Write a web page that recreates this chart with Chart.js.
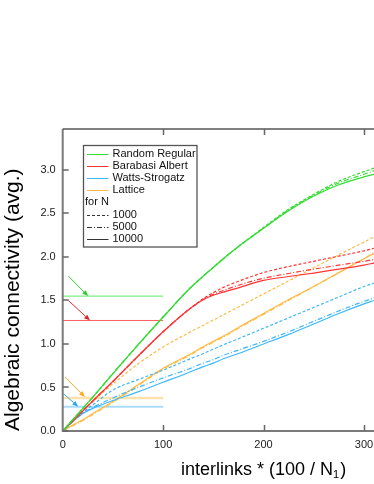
<!DOCTYPE html>
<html>
<head>
<meta charset="utf-8">
<style>
	html, body { margin: 0; padding: 0; background: #fff; }
	#wrap { width: 374px; height: 484px; position: relative; }
</style>
<script src="https://cdn.jsdelivr.net/npm/chart.js@4.4.1/dist/chart.umd.min.js"></script>
</head>
<body>
<div id="wrap"><canvas id="chart"></canvas></div>
<script>
// interlinks * (100 / N1)
const xs = [0, 10, 20, 30, 50, 75, 100, 125, 140, 150, 160, 175, 200, 225, 250, 275, 300, 310];

// Random Regular
const rr1000 = [0, 0.13, 0.26, 0.39, 0.66, 0.99, 1.31, 1.62, 1.78, 1.88, 1.98, 2.12, 2.34, 2.55, 2.72, 2.87, 2.98, 3.02];
const rr5000 = [0, 0.13, 0.26, 0.39, 0.66, 0.99, 1.31, 1.62, 1.78, 1.88, 1.98, 2.12, 2.33, 2.54, 2.71, 2.85, 2.95, 2.99];
const rr10000 = [0, 0.13, 0.26, 0.39, 0.66, 0.99, 1.31, 1.62, 1.78, 1.88, 1.98, 2.12, 2.33, 2.53, 2.70, 2.83, 2.92, 2.95];

// Barabasi Albert
const ba1000 = [0, 0.115, 0.23, 0.345, 0.57, 0.86, 1.14, 1.39, 1.52, 1.59, 1.65, 1.72, 1.82, 1.89, 1.95, 2.01, 2.07, 2.10];
const ba5000 = [0, 0.115, 0.23, 0.345, 0.57, 0.86, 1.14, 1.39, 1.51, 1.57, 1.615, 1.675, 1.755, 1.81, 1.86, 1.905, 1.95, 1.97];
const ba10000 = [0, 0.115, 0.23, 0.345, 0.57, 0.86, 1.14, 1.39, 1.51, 1.56, 1.595, 1.645, 1.73, 1.775, 1.815, 1.86, 1.905, 1.93];

// Watts-Strogatz
const ws1000 = [0, 0.11, 0.21, 0.30, 0.47, 0.59, 0.70, 0.82, 0.89, 0.94, 0.99, 1.06, 1.18, 1.30, 1.42, 1.54, 1.66, 1.70];
const ws5000 = [0, 0.11, 0.20, 0.27, 0.38, 0.50, 0.61, 0.71, 0.78, 0.82, 0.87, 0.93, 1.03, 1.14, 1.26, 1.38, 1.49, 1.53];
const ws10000 = [0, 0.11, 0.20, 0.26, 0.35, 0.45, 0.56, 0.67, 0.74, 0.78, 0.83, 0.89, 1.00, 1.11, 1.23, 1.35, 1.46, 1.50];

// Lattice
const lat1000 = [0, 0.115, 0.23, 0.34, 0.54, 0.77, 0.965, 1.125, 1.215, 1.275, 1.335, 1.425, 1.575, 1.725, 1.875, 2.025, 2.17, 2.23];
const lat5000 = [0, 0.06, 0.12, 0.19, 0.33, 0.52, 0.71, 0.86, 0.96, 1.02, 1.08, 1.18, 1.34, 1.50, 1.66, 1.82, 1.98, 2.05];
const lat10000 = [0, 0.07, 0.13, 0.20, 0.34, 0.53, 0.72, 0.87, 0.97, 1.03, 1.09, 1.19, 1.35, 1.51, 1.66, 1.82, 1.98, 2.04];

// reference levels (drawn from 0 to 100) and arrows pointing at them
const refLevels = [1.55, 1.27, 0.38, 0.28];
const refSpan = [0, 100];
const arrowFrom = [[5.6, 1.78], [5.6, 1.50], [2.3, 0.62], [0.6, 0.43]];
const arrowTo = [[25.4, 1.55], [27.2, 1.27], [22.2, 0.39], [15.5, 0.28]];

const yTicks = [0, 0.5, 1, 1.5, 2, 2.5, 3];
const xTicks = [0, 100, 200, 300];

const legendLabels = ["Random Regular", "Barabasi Albert", "Watts-Strogatz", "Lattice"];
const legendHeader = "for N";
const sizeLabels = ["1000", "5000", "10000"];

const green = "#33dd33";
const red = "#ff3535";
const blue = "#3db8fa";
const orange = "#ffbb44";
const colors = [green, red, blue, orange];
const refColors = ["#5eea5e", "#ff6060", "#ffe2aa", "#a9dcfd"];
const refWidths = [1, 1, 2.5, 2];
const arrowColors = ["#2ccc2c", "#dd2828", "#ffaa22", "#2ea8ef"];
const dashes = [[3, 2], [5, 2, 1, 2], []];

const font = "'Liberation Sans', Arial, sans-serif";

const pts = vals => xs.map((x, i) => ({ x, y: vals[i] }));

const series = [
	[rr1000, rr5000, rr10000],
	[ba1000, ba5000, ba10000],
	[ws1000, ws5000, ws10000],
	[lat1000, lat5000, lat10000],
];

const datasets = [];
series.forEach((group, g) => {
	group.forEach((vals, k) => {
		datasets.push({
			data: pts(vals),
			borderColor: colors[g],
			borderWidth: 1.2,
			borderDash: dashes[k],
			pointRadius: 0,
			showLine: true,
			tension: 0.35,
			cubicInterpolationMode: "monotone",
		});
	});
});
refLevels.forEach((lvl, i) => {
	datasets.push({
		data: refSpan.map(x => ({ x, y: lvl })),
		borderColor: refColors[i],
		borderWidth: refWidths[i],
		pointRadius: 0,
		showLine: true,
	});
});

const drawArrow = (ctx, x0, y0, x1, y1, color) => {
	const ang = Math.atan2(y1 - y0, x1 - x0);
	const len = 6;
	const hw = 2.4;
	ctx.strokeStyle = color;
	ctx.fillStyle = color;
	ctx.lineWidth = 1;
	ctx.beginPath();
	ctx.moveTo(x0, y0);
	ctx.lineTo(x1 - len * Math.cos(ang), y1 - len * Math.sin(ang));
	ctx.stroke();
	ctx.beginPath();
	ctx.moveTo(x1, y1);
	ctx.lineTo(
		x1 - len * Math.cos(ang) + hw * Math.sin(ang),
		y1 - len * Math.sin(ang) - hw * Math.cos(ang)
	);
	ctx.lineTo(
		x1 - len * Math.cos(ang) - hw * Math.sin(ang),
		y1 - len * Math.sin(ang) + hw * Math.cos(ang)
	);
	ctx.closePath();
	ctx.fill();
};

const framePlugin = {
	id: "frame",
	afterDatasetsDraw(chart) {
		const { ctx, chartArea: a, scales } = chart;
		const { x, y } = scales;
		ctx.save();

		// arrows
		arrowFrom.forEach((p, i) => {
			drawArrow(
				ctx,
				x.getPixelForValue(p[0]),
				y.getPixelForValue(p[1]),
				x.getPixelForValue(arrowTo[i][0]),
				y.getPixelForValue(arrowTo[i][1]),
				arrowColors[i]
			);
		});

		// frame
		ctx.setLineDash([]);
		ctx.strokeStyle = "#7a7a7a";
		ctx.lineWidth = 2;
		ctx.beginPath();
		ctx.moveTo(a.left, a.top);
		ctx.lineTo(a.left, a.bottom);
		ctx.lineTo(a.right, a.bottom);
		ctx.stroke();
		ctx.strokeStyle = "#555";
		ctx.lineWidth = 1.5;
		ctx.beginPath();
		ctx.moveTo(a.left, a.top);
		ctx.lineTo(a.right, a.top);
		ctx.stroke();

		// inward ticks
		ctx.strokeStyle = "#666";
		ctx.lineWidth = 1.5;
		ctx.beginPath();
		yTicks.forEach(v => {
			const py = Math.round(y.getPixelForValue(v));
			ctx.moveTo(a.left, py);
			ctx.lineTo(a.left + 6, py);
		});
		xTicks.slice(1).forEach(v => {
			const px = Math.round(x.getPixelForValue(v)) + 0.5;
			ctx.moveTo(px, a.bottom);
			ctx.lineTo(px, a.bottom - 6);
			ctx.moveTo(px, a.top);
			ctx.lineTo(px, a.top + 6);
		});
		ctx.stroke();

		// legend
		const bx = 83.5, by = 145.5, bw = 113.5, bh = 101.5;
		ctx.fillStyle = "#fff";
		ctx.fillRect(bx, by, bw, bh);
		ctx.strokeStyle = "#555";
		ctx.lineWidth = 1.3;
		ctx.strokeRect(bx, by, bw, bh);
		ctx.font = `11px ${font}`;
		ctx.textBaseline = "middle";
		ctx.fillStyle = "#111";
		const row = i => 153.5 + i * 12.2;
		const sample = (i, color, dash) => {
			ctx.strokeStyle = color;
			ctx.lineWidth = 1;
			ctx.setLineDash(dash);
			ctx.beginPath();
			ctx.moveTo(87, Math.round(row(i)) + 0.5);
			ctx.lineTo(108.5, Math.round(row(i)) + 0.5);
			ctx.stroke();
		};
		legendLabels.forEach((t, i) => {
			sample(i, colors[i], []);
			ctx.fillText(t, 112.5, row(i));
		});
		ctx.setLineDash([]);
		ctx.fillText(legendHeader, 85, row(4));
		sizeLabels.forEach((t, k) => {
			sample(5 + k, "#333", dashes[k]);
			ctx.fillText(t, 112.5, row(5 + k));
		});
		ctx.setLineDash([]);

		// x axis title with subscript
		ctx.fillStyle = "#000";
		ctx.textBaseline = "alphabetic";
		ctx.font = `18px ${font}`;
		const main = "interlinks * (100 / N";
		let tx = 181;
		ctx.fillText(main, tx, 475);
		tx += ctx.measureText(main).width;
		ctx.font = `11px ${font}`;
		ctx.fillText("1", tx, 478);
		tx += ctx.measureText("1").width + 1;
		ctx.font = `18px ${font}`;
		ctx.fillText(")", tx, 475);

		ctx.restore();
	},
};

new Chart(document.getElementById("chart"), {
	type: "scatter",
	data: { datasets },
	plugins: [framePlugin],
	options: {
		responsive: true,
		maintainAspectRatio: false,
		animation: false,
		devicePixelRatio: 1,
		layout: { padding: { top: 129, right: 0, bottom: 0, left: 0 } },
		plugins: {
			legend: { display: false },
			tooltip: { enabled: false },
		},
		scales: {
			x: {
				type: "linear",
				min: 0,
				max: 310,
				afterBuildTicks: s => (s.ticks = xTicks.map(value => ({ value }))),
				afterFit: s => {
					s.height = 53;
					s.paddingLeft = 0;
					s.paddingRight = 0;
				},
				grid: { display: false, drawTicks: false },
				border: { display: false },
				ticks: {
					padding: 7,
					color: "#222",
					font: { family: font, size: 11 },
					maxRotation: 0,
					autoSkip: false,
				},
			},
			y: {
				type: "linear",
				min: 0,
				max: 3.47,
				afterBuildTicks: s => (s.ticks = yTicks.map(value => ({ value }))),
				afterFit: s => {
					s.width = 62.7;
					s.paddingTop = 0;
					s.paddingBottom = 0;
				},
				grid: { display: false, drawTicks: false },
				border: { display: false },
				ticks: {
					padding: 7,
					color: "#222",
					font: { family: font, size: 11 },
					callback: v => v.toFixed(1),
				},
				title: {
					display: true,
					text: "Algebraic connectivity (avg.)",
					align: "start",
					color: "#000",
					font: { family: font, size: 21 },
					padding: { top: 1, bottom: 0 },
				},
			},
		},
	},
});
</script>
</body>
</html>
